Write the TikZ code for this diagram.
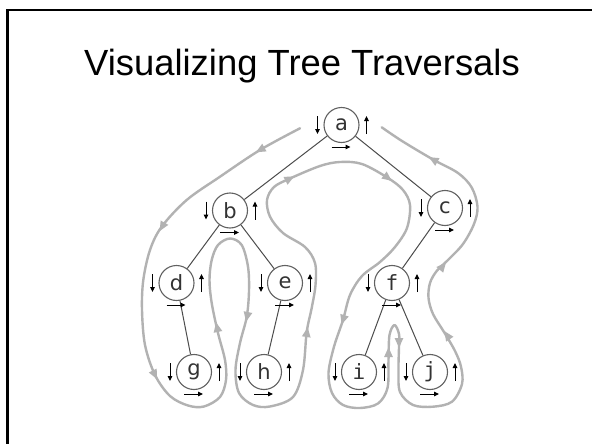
\documentclass[tikz,border=0pt]{standalone}
\usepackage{fontspec}
\setmainfont{Liberation Sans}
\newfontfamily\nodesans{DejaVu Sans}
\newfontfamily\nodemono{DejaVu Sans Mono}
\usetikzlibrary{arrows.meta}
\newcommand\eulermarks[1]{%
  \draw[sarrow] ([shift={(-24pt,9pt)}]#1.center) -- ([shift={(-24pt,-9pt)}]#1.center);
  \draw[sarrow] ([shift={(25pt,-9pt)}]#1.center) -- ([shift={(25pt,9pt)}]#1.center);
  \draw[sarrow] ([shift={(-10pt,-22pt)}]#1.center) -- ([shift={(9pt,-22pt)}]#1.center);}
\begin{document}
\begin{tikzpicture}[x=1pt,y=-1pt,
  tnode/.style={circle, draw=black!62, line width=1.1pt, minimum size=35pt, inner sep=0pt,
    font=\nodesans\fontsize{21}{21}\selectfont, text=black!80},
  mnode/.style={tnode, font=\nodemono\fontsize{21}{21}\selectfont},
  tedge/.style={draw=black!70, line width=1pt},
  tour/.style={draw=black!30, line width=2.4pt, line join=round, line cap=round},
  tourtip/.style={draw=black!30, line width=2.4pt, -{Triangle[length=10pt,width=8pt]}},
  sarrow/.style={draw=black, line width=1pt, -{Triangle[length=5pt,width=4.5pt]}}]
\useasboundingbox (0,0) rectangle (592,444);
\fill[white] (0,0) rectangle (592,444);
\draw[line width=2.5pt] (7.5,444) -- (7.5,10) -- (592,10);
\node[anchor=base, font=\fontsize{36.4}{42}\selectfont] (title) at (302,76) {Visualizing Tree Traversals};

% Euler tour path
\draw[tour] plot[smooth, tension=0.55] coordinates {
 (300,128.3) (260,150) (220,176.7) (186.7,200) (161.7,226.7) (150,250) (143.3,280)
 (142,310) (145,345) (155,375) (170,396) (188,405.5) (204,406.5) (220,397) (226,380)
 (225,360) (218,333) (211.7,303) (209.5,280) (211.7,260) (218,245) (230,238.5)
 (241.7,245) (248,266.7) (249,291) (246.7,317) (240,343) (235.5,370) (239,393)
 (253,405) (270,406.5) (293,397) (303,370) (306.7,332) (311.7,308) (315.5,285)
 (315,263) (305,247) (283,233) (270,216.7) (267,200) (274,187) (290,178.5) (320,166)
 (340,162) (362,164) (388,178) (403,190) (410,205) (407,228) (395,247) (380,262)
 (362,276) (350,295) (343,320) (334,346.7) (328.5,373) (332,393) (343,405) (360,408)
 (378,403.5) (387.5,388) (388.5,360) (389.5,335) (394.5,325) (399,334) (399,347)
 (398.5,370) (400,392) (413,405) (433,406.7) (452,401.7) (462,384) (461,366.7)
 (455,351) (444,332) (433,314) (428.5,298) (430,283) (436.7,271) (448,260) (463,244)
 (474,224) (477.5,206.7) (471.7,187.5) (458,173) (433,159.5) (402,141) (381.7,127.3)};

% arrowheads on the tour
\draw[tourtip] (260,150) -- ++(-4.35,2.45);
\draw[tourtip] (162,227) -- ++(-2.5,4.35);
\draw[tourtip] (155,375) -- ++(2.25,4.45);
\draw[tourtip] (217,327) -- ++(-1,-4.9);
\draw[tourtip] (247,317) -- ++(-1,4.9);
\draw[tourtip] (307,332) -- ++(0.75,-4.95);
\draw[tourtip] (290,178.5) -- ++(4.4,-2.3);
\draw[tourtip] (388,178) -- ++(4,3);
\draw[tourtip] (343,320) -- ++(-1.5,4.75);
\draw[tourtip] (388.5,352) -- ++(0,-5);
\draw[tourtip] (399,343) -- ++(0,5);
\draw[tourtip] (447,335) -- ++(-2.75,-4.15);
\draw[tourtip] (443,266) -- ++(3.2,-3.85);
\draw[tourtip] (433,159.5) -- ++(-4.35,-2.45);

% nodes
\node[tnode] (a) at (341.5,125) {a};
\node[tnode] (b) at (230,210.5) {b};
\node[tnode] (c) at (445,208) {c};
\node[tnode] (d) at (176.5,283) {d};
\node[tnode] (e) at (285,283) {e};
\node[mnode] (f) at (392,283) {f};
\node[tnode] (g) at (194,372) {g};
\node[tnode] (h) at (264,372) {h};
\node[mnode] (i) at (359,372) {i};
\node[mnode] (j) at (430,372) {j};

% tree edges
\draw[tedge] (a) -- (b);
\draw[tedge] (a) -- (c);
\draw[tedge] (b) -- (d);
\draw[tedge] (b) -- (e);
\draw[tedge] (c) -- (f);
\draw[tedge] (d) -- (g);
\draw[tedge] (e) -- (h);
\draw[tedge] (f) -- (i);
\draw[tedge] (f) -- (j);

% pre / in / post order marks
\eulermarks{a}
\eulermarks{b}
\eulermarks{c}
\eulermarks{d}
\eulermarks{e}
\eulermarks{f}
\eulermarks{g}
\eulermarks{h}
\eulermarks{i}
\eulermarks{j}
\end{tikzpicture}
\end{document}
